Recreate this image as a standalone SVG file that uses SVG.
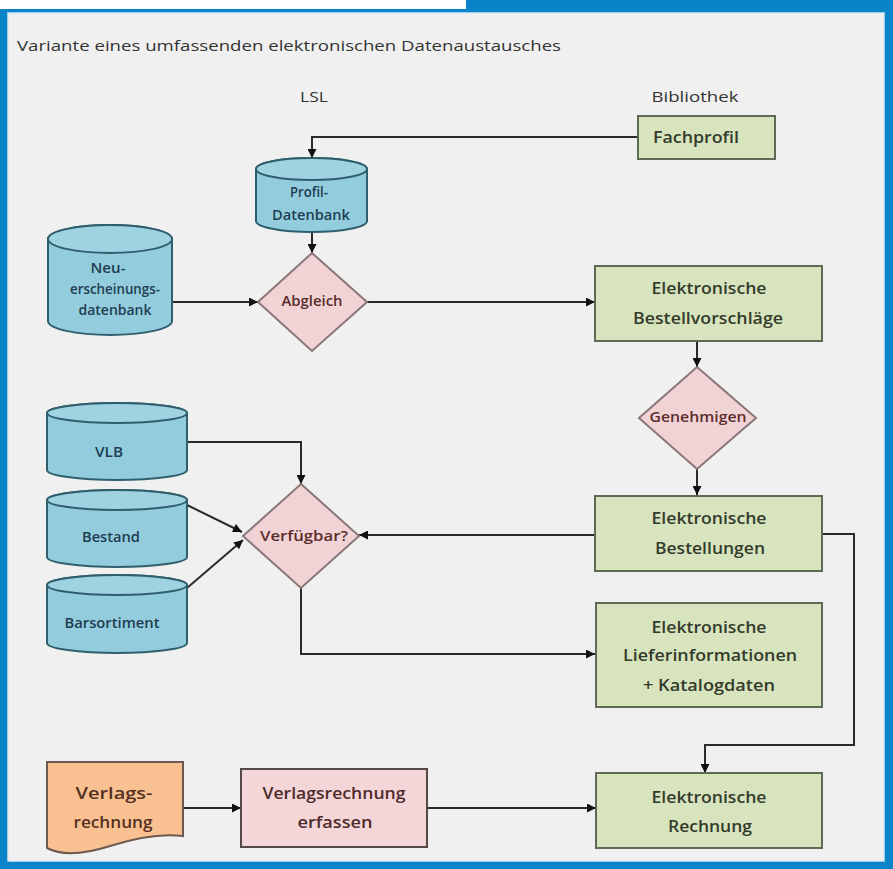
<svg xmlns="http://www.w3.org/2000/svg" width="893" height="869" viewBox="0 0 893 869">
  <style>
    text { font-family: "Open Sans", "Liberation Sans", sans-serif; text-anchor: middle; dominant-baseline: central; }
    .head { fill: #333333; font-size: 15px; }
    .box { fill: #d7e4bd; stroke: #5e6a54; stroke-width: 2; }
    .boxt { fill: #343b2c; font-size: 16px; font-weight: 600; }
    .cyl { fill: #93cddd; stroke: #2f5f6c; stroke-width: 2; }
    .cyltop { fill: #9fd3e1; stroke: #2f5f6c; stroke-width: 2; }
    .cylt { fill: #1f3d52; font-size: 13.5px; font-weight: 600; }
    .dia { fill: #f2d3d5; stroke: #8a7676; stroke-width: 2; }
    .diat { fill: #5a2c2c; font-size: 13.5px; font-weight: 600; }
    .pink { fill: #f4d6d8; stroke: #544848; stroke-width: 2; }
    .pinkt { fill: #4f2a2a; font-size: 16px; font-weight: 600; }
    .doc { fill: #f9c092; stroke: #6c5a50; stroke-width: 2; }
    .doct { fill: #55301f; font-size: 16px; font-weight: 600; }
    .edge { fill: none; stroke: #2a2a2a; stroke-width: 2; marker-end: url(#arrow); }
  </style>
  <defs>
    <marker id="arrow" viewBox="0 0 10 10" refX="10" refY="5" markerWidth="10" markerHeight="9" markerUnits="userSpaceOnUse" orient="auto">
      <path d="M0,0 L10,5 L0,10 Z" fill="#111111"/>
    </marker>
  </defs>

  <!-- frame -->
  <rect x="0" y="0" width="893" height="869" fill="#ffffff"/>
  <rect x="466" y="0" width="427" height="12" fill="#0a84c8"/>
  <rect x="0" y="9" width="893" height="860" fill="#0a84c8"/>
  <rect x="8" y="13" width="876" height="848" fill="#f0f0f0" stroke="#d6e8f3" stroke-width="1.5"/>

  <!-- headings -->
  <text x="289" y="45" class="head" textLength="544" lengthAdjust="spacingAndGlyphs">Variante eines umfassenden elektronischen Datenaustausches</text>
  <text x="314" y="96" class="head" textLength="28" lengthAdjust="spacingAndGlyphs">LSL</text>
  <text x="695" y="96" class="head" textLength="87" lengthAdjust="spacingAndGlyphs">Bibliothek</text>

  <!-- connectors -->
  <g id="connectors">
    <path class="edge" d="M638,137 H312 V158"/>
    <path class="edge" d="M312,232 V253"/>
    <path class="edge" d="M172,302 H258"/>
    <path class="edge" d="M367,302 H595"/>
    <path class="edge" d="M697,341 V367"/>
    <path class="edge" d="M697,469 V495"/>
    <path class="edge" d="M595,535 H359"/>
    <path class="edge" d="M187,442 H301 V484"/>
    <path class="edge" d="M187,505 L242,532"/>
    <path class="edge" d="M187,588 L243,540"/>
    <path class="edge" d="M301,588 V654 H595"/>
    <path class="edge" d="M822,534 H854 V745 H705 V773"/>
    <path class="edge" d="M183,808 H241"/>
    <path class="edge" d="M427,808 H596"/>
  </g>

  <!-- Bibliothek side -->
  <g id="fachprofil">
    <rect class="box" x="638" y="116" width="137" height="43"/>
    <text x="696" y="137" class="boxt" textLength="86" lengthAdjust="spacingAndGlyphs">Fachprofil</text>
  </g>

  <g id="bestellvorschlaege">
    <rect class="box" x="595" y="266" width="227" height="75"/>
    <text x="709" y="288" class="boxt" textLength="115" lengthAdjust="spacingAndGlyphs">Elektronische</text>
    <text x="708" y="318" class="boxt" textLength="150" lengthAdjust="spacingAndGlyphs">Bestellvorschläge</text>
  </g>

  <g id="genehmigen">
    <polygon class="dia" points="697,367 756,418 697,469 639,418"/>
    <text x="698" y="417" class="diat" textLength="97" lengthAdjust="spacingAndGlyphs">Genehmigen</text>
  </g>

  <g id="bestellungen">
    <rect class="box" x="595" y="496" width="227" height="75"/>
    <text x="709" y="518" class="boxt" textLength="115" lengthAdjust="spacingAndGlyphs">Elektronische</text>
    <text x="710" y="548" class="boxt" textLength="110" lengthAdjust="spacingAndGlyphs">Bestellungen</text>
  </g>

  <g id="lieferinformationen">
    <rect class="box" x="596" y="603" width="226" height="104"/>
    <text x="709" y="627" class="boxt" textLength="115" lengthAdjust="spacingAndGlyphs">Elektronische</text>
    <text x="710" y="655" class="boxt" textLength="174" lengthAdjust="spacingAndGlyphs">Lieferinformationen</text>
    <text x="709" y="685" class="boxt" textLength="132" lengthAdjust="spacingAndGlyphs">+ Katalogdaten</text>
  </g>

  <g id="rechnung">
    <rect class="box" x="596" y="773" width="226" height="75"/>
    <text x="709" y="797" class="boxt" textLength="115" lengthAdjust="spacingAndGlyphs">Elektronische</text>
    <text x="710" y="826" class="boxt" textLength="84" lengthAdjust="spacingAndGlyphs">Rechnung</text>
  </g>

  <!-- LSL side -->
  <g id="profil-datenbank">
    <path class="cyl" d="M256,169 A55.5,11 0 0 1 367,169 V221 A55.5,11 0 0 1 256,221 Z"/>
    <ellipse class="cyltop" cx="311.5" cy="169" rx="55.5" ry="11"/>
    <text x="309" y="192" class="cylt" textLength="38" lengthAdjust="spacingAndGlyphs">Profil-</text>
    <text x="311" y="215" class="cylt" textLength="78" lengthAdjust="spacingAndGlyphs">Datenbank</text>
  </g>

  <g id="abgleich">
    <polygon class="dia" points="312,253 367,302 312,351 258,302"/>
    <text x="312" y="301" class="diat" textLength="61" lengthAdjust="spacingAndGlyphs">Abgleich</text>
  </g>

  <g id="neuerscheinungsdatenbank">
    <path class="cyl" d="M48,239 A62,14 0 0 1 172,239 V321 A62,14 0 0 1 48,321 Z"/>
    <ellipse class="cyltop" cx="110" cy="239" rx="62" ry="14"/>
    <text x="108" y="268" class="cylt" textLength="35" lengthAdjust="spacingAndGlyphs">Neu-</text>
    <text x="115" y="289" class="cylt" textLength="90" lengthAdjust="spacingAndGlyphs">erscheinungs-</text>
    <text x="115" y="310" class="cylt" textLength="73" lengthAdjust="spacingAndGlyphs">datenbank</text>
  </g>

  <g id="vlb">
    <path class="cyl" d="M47,413 A70,10 0 0 1 187,413 V470 A70,10 0 0 1 47,470 Z"/>
    <ellipse class="cyltop" cx="117" cy="413" rx="70" ry="10"/>
    <text x="109" y="452" class="cylt" textLength="28" lengthAdjust="spacingAndGlyphs">VLB</text>
  </g>

  <g id="bestand">
    <path class="cyl" d="M47,500 A70,10 0 0 1 187,500 V557 A70,10 0 0 1 47,557 Z"/>
    <ellipse class="cyltop" cx="117" cy="500" rx="70" ry="10"/>
    <text x="111" y="537" class="cylt" textLength="58" lengthAdjust="spacingAndGlyphs">Bestand</text>
  </g>

  <g id="barsortiment">
    <path class="cyl" d="M47,585 A70,10 0 0 1 187,585 V643 A70,10 0 0 1 47,643 Z"/>
    <ellipse class="cyltop" cx="117" cy="585" rx="70" ry="10"/>
    <text x="112" y="623" class="cylt" textLength="95" lengthAdjust="spacingAndGlyphs">Barsortiment</text>
  </g>

  <g id="verfuegbar">
    <polygon class="dia" points="301,484 359,536 301,588 243,536"/>
    <text x="304" y="536" class="diat" textLength="88" lengthAdjust="spacingAndGlyphs">Verfügbar?</text>
  </g>

  <g id="verlagsrechnung">
    <path class="doc" d="M47,762 H183 V836 C160,833 135,838 110,846 C85,854 62,856 47,848 Z"/>
    <text x="114" y="793" class="doct" textLength="77" lengthAdjust="spacingAndGlyphs">Verlags-</text>
    <text x="113" y="822" class="doct" textLength="79" lengthAdjust="spacingAndGlyphs">rechnung</text>
  </g>

  <g id="verlagsrechnung-erfassen">
    <rect class="pink" x="241" y="769" width="186" height="78"/>
    <text x="334" y="793" class="pinkt" textLength="143" lengthAdjust="spacingAndGlyphs">Verlagsrechnung</text>
    <text x="335" y="822" class="pinkt" textLength="75" lengthAdjust="spacingAndGlyphs">erfassen</text>
  </g>
</svg>
